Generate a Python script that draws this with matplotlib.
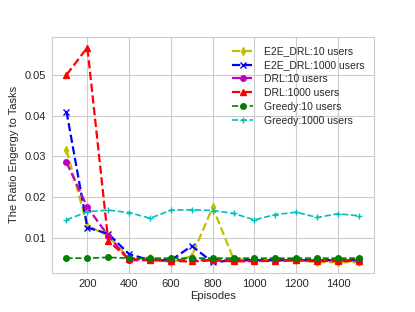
import matplotlib
matplotlib.use("Agg")
import matplotlib.pyplot as plt
import seaborn as sns

episodes = [100, 200, 300, 400, 500, 600, 700, 800, 900, 1000, 1100, 1200, 1300, 1400, 1500]

e2e_10 = [0.0315, 0.0130, 0.0105, 0.0050, 0.0050, 0.0040, 0.0055, 0.0175, 0.0048, 0.0045,
          0.0045, 0.0045, 0.0040, 0.0040, 0.0040]
e2e_1000 = [0.0410, 0.0125, 0.0110, 0.0060, 0.0045, 0.0045, 0.0080, 0.0040, 0.0045, 0.0045,
            0.0045, 0.0045, 0.0045, 0.0045, 0.0045]
drl_10 = [0.0285, 0.0175, 0.0105, 0.0045, 0.0045, 0.0045, 0.0045, 0.0045, 0.0045, 0.0042,
          0.0045, 0.0045, 0.0045, 0.0045, 0.0045]
drl_1000 = [0.0500, 0.0567, 0.0092, 0.0048, 0.0046, 0.0043, 0.0042, 0.0045, 0.0042, 0.0043,
            0.0043, 0.0045, 0.0043, 0.0043, 0.0043]
greedy_10 = [0.0050, 0.0050, 0.0052, 0.0050, 0.0050, 0.0050, 0.0050, 0.0050, 0.0050, 0.0050,
             0.0050, 0.0050, 0.0050, 0.0050, 0.0050]
greedy_1000 = [0.0144, 0.0164, 0.0168, 0.0162, 0.0148, 0.0168, 0.0169, 0.0167, 0.0160, 0.0144,
               0.0157, 0.0163, 0.0150, 0.0159, 0.0154]

sns.set_style("whitegrid")
plt.rcParams['font.family'] = ['Liberation Sans', 'DejaVu Sans']

fig = plt.figure(figsize=(4.15, 3.12), dpi=100)
ax = fig.add_axes([0.125, 0.125, 0.775, 0.757])

ax.plot(episodes, e2e_10, color='y', linestyle='--', marker='d', markersize=4, linewidth=1.6, label='E2E_DRL:10 users')
ax.plot(episodes, e2e_1000, color='b', linestyle='--', marker='x', markersize=4, linewidth=1.6, label='E2E_DRL:1000 users')
ax.plot(episodes, drl_10, color='m', linestyle='--', marker='o', markersize=4, linewidth=1.6, label='DRL:10 users')
ax.plot(episodes, drl_1000, color='r', linestyle='--', marker='^', markersize=4, linewidth=1.6, label='DRL:1000 users')
ax.plot(episodes, greedy_10, color='g', linestyle='--', marker='o', markersize=4, linewidth=1.2, label='Greedy:10 users')
ax.plot(episodes, greedy_1000, color='c', linestyle='--', marker='+', markersize=4, linewidth=1.2, label='Greedy:1000 users')

ax.set_xlabel("Episodes", fontsize=8, labelpad=1)
ax.set_ylabel("The Ratio Engergy to Tasks", fontsize=8)
ax.tick_params(labelsize=8, pad=1)
for s in ax.spines.values():
    s.set_edgecolor('#cccccc')
ax.legend(loc='upper right', fontsize=7.5, frameon=False, labelspacing=0.38,
          handletextpad=1.0, handlelength=2.0)

fig.savefig("out.png", dpi=100)
